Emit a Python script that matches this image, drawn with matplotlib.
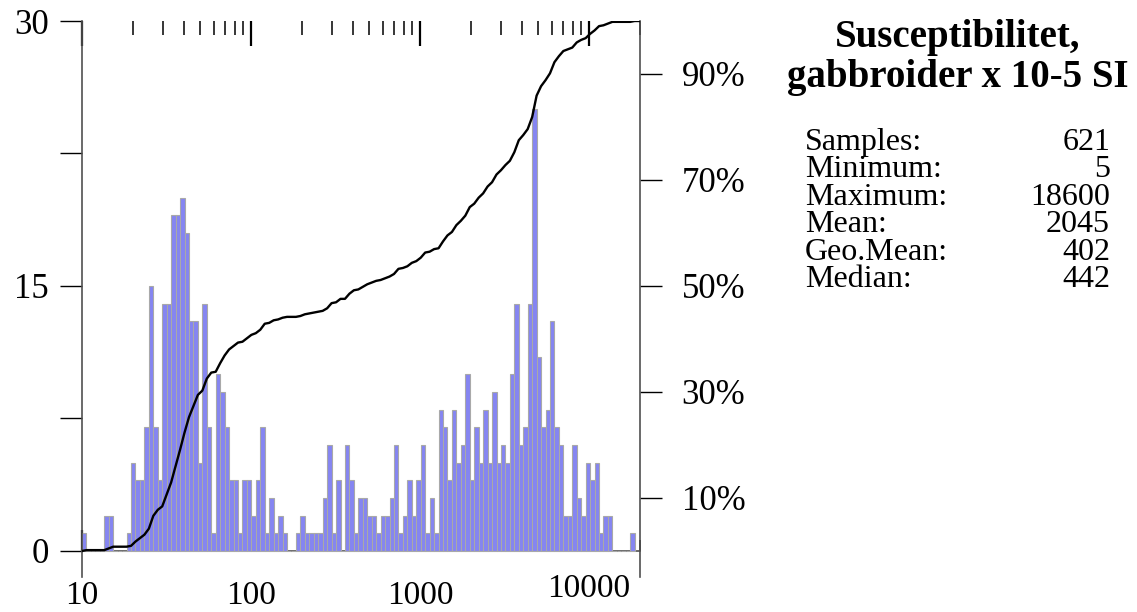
import numpy as np
import matplotlib.pyplot as plt
from matplotlib.ticker import FixedLocator, LogLocator, NullFormatter
from matplotlib.transforms import ScaledTranslation

plt.rcParams['font.family'] = ['Liberation Serif', 'DejaVu Serif']

# counts per log-spaced bin, 124 bins between 10 and 18600
counts = [1, 0, 0, 0, 0, 2, 2, 0, 0, 0,
          1, 5, 4, 4, 7, 15, 7, 4, 14, 14,
          19, 19, 20, 18, 13, 13, 5, 14, 7, 1,
          10, 9, 7, 4, 4, 1, 4, 4, 2, 4,
          7, 1, 3, 1, 2, 1, 0, 0, 1, 2,
          1, 1, 1, 1, 3, 6, 1, 4, 0, 6,
          4, 1, 3, 3, 2, 2, 1, 2, 2, 3,
          6, 1, 2, 4, 2, 4, 6, 1, 3, 1,
          8, 7, 4, 8, 5, 6, 10, 4, 7, 5,
          8, 5, 9, 5, 6, 5, 10, 14, 6, 7,
          14, 25, 11, 7, 8, 13, 7, 6, 2, 2,
          6, 3, 2, 5, 4, 5, 1, 2, 2, 0,
          0, 0, 0, 1]
bin_lo, bin_hi = 10, 18600
x_lim = (10, 20000)

y_ticks = [0, 15, 30]
y_minor = [7.5, 22.5]
pct_ticks = [10, 30, 50, 70, 90]
x_ticks = [10, 100, 1000, 10000]

title_lines = ['Susceptibilitet,', 'gabbroider x 10-5 SI']
stat_names = ['Samples:', 'Minimum:', 'Maximum:', 'Mean:', 'Geo.Mean:', 'Median:']
stat_values = ['621', '5', '18600', '2045', '402', '442']

edges = np.logspace(np.log10(bin_lo), np.log10(bin_hi), len(counts) + 1)
counts = np.array(counts)
cum_pct = np.concatenate([[0], np.cumsum(counts)]) / counts.sum() * 100

y_bottom = -1.45
axis_grey = '#505050'
fs = 25

fig = plt.figure(figsize=(11.37, 6.12), dpi=100)
ax = fig.add_axes([82 / 1137, 35.4 / 612, 558 / 1137, 555.6 / 612])

ax.bar(edges[:-1], counts, width=np.diff(edges), align='edge',
       color='#8585f2', edgecolor='#a9a9a9', linewidth=0.8, zorder=2)

ax.set_xscale('log')
ax.set_xlim(*x_lim)
ax.set_ylim(y_bottom, 30)

for side in ['top', 'bottom', 'right']:
    ax.spines[side].set_visible(False)
ax.spines['left'].set_color(axis_grey)
ax.spines['left'].set_linewidth(1.2)

# y axis (counts)
ax.yaxis.set_major_locator(FixedLocator(y_ticks))
ax.yaxis.set_minor_locator(FixedLocator(y_minor))
ax.set_yticklabels([str(t) for t in y_ticks])
ax.tick_params(axis='y', which='both', direction='out', length=16,
               width=1.0, color='black', labelsize=fs, pad=8)
ax.yaxis.get_major_ticks()[-1].tick1line.set_visible(False)

# x axis: labels only at the bottom, inward ticks along the top
ax.xaxis.set_major_locator(FixedLocator(x_ticks))
ax.xaxis.set_minor_locator(LogLocator(base=10, subs=np.arange(2, 10)))
ax.xaxis.set_minor_formatter(NullFormatter())
ax.set_xticklabels([str(t) for t in x_ticks])
ax.tick_params(axis='x', which='both', bottom=False, top=True,
               direction='in', color='black', labelsize=fs - 1, pad=3)
ax.tick_params(axis='x', which='major', length=18, width=1.6)
ax.tick_params(axis='x', which='minor', length=10, width=1.1)
last = ax.get_xticklabels()[-1]
last.set_transform(last.get_transform() +
                   ScaledTranslation(0, 5 / 72, fig.dpi_scale_trans))

# zero line with its own inward ticks
zero_ax = ax.secondary_xaxis(-y_bottom / (30 - y_bottom))
zero_ax.spines['bottom'].set_color(axis_grey)
zero_ax.spines['bottom'].set_linewidth(1.2)
zero_ax.xaxis.set_major_locator(FixedLocator(x_ticks))
zero_ax.xaxis.set_minor_locator(LogLocator(base=10, subs=np.arange(2, 10)))
zero_ax.xaxis.set_major_formatter(NullFormatter())
zero_ax.xaxis.set_minor_formatter(NullFormatter())
zero_ax.tick_params(which='both', direction='in', color='black')
zero_ax.tick_params(which='major', length=15, width=1.6)
zero_ax.tick_params(which='minor', length=8, width=1.1)

# cumulative percentage on the right
ax2 = ax.twinx()
ax2.set_ylim(y_bottom / 30 * 100, 100)
ax2.plot(np.append(edges, x_lim[1]), np.append(cum_pct, cum_pct[-1]),
         color='black', linewidth=1.7, zorder=3)
for side in ['top', 'bottom', 'left']:
    ax2.spines[side].set_visible(False)
ax2.spines['right'].set_color(axis_grey)
ax2.spines['right'].set_linewidth(1.2)
ax2.yaxis.set_major_locator(FixedLocator(pct_ticks))
ax2.set_yticklabels(['%d%%' % p for p in pct_ticks])
ax2.tick_params(axis='y', direction='out', length=16, width=1.0,
                color='black', labelsize=fs, pad=14)

# title and summary statistics
fig.text(958 / 1137, 1 - 38 / 612, title_lines[0], ha='center', va='center',
         fontsize=28, fontweight='bold')
fig.text(958 / 1137, 1 - 77 / 612, title_lines[1], ha='center', va='center',
         fontsize=28, fontweight='bold')
for i, (name, val) in enumerate(zip(stat_names, stat_values)):
    y = 1 - (142 + 27.6 * i) / 612
    fig.text(805 / 1137, y, name, ha='left', va='center', fontsize=23)
    fig.text(1110 / 1137, y, val, ha='right', va='center', fontsize=23)

fig.savefig('out.png', dpi=100)
